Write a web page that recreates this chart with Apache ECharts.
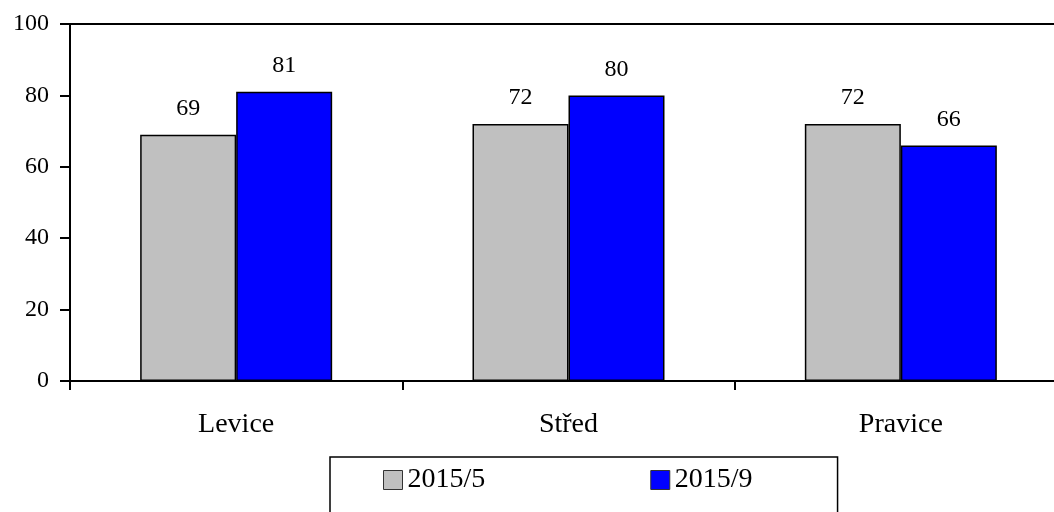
<!DOCTYPE html>
<html>
<head>
<meta charset="utf-8">
<script src="https://cdn.jsdelivr.net/npm/echarts@6/dist/echarts.min.js"></script>
<style>html,body{margin:0;padding:0;background:#fff;overflow:hidden;width:1054px;height:512px;}#c{width:1067px;height:512px;}</style>
</head>
<body>
<div id="c"></div>
<script>
const categories = ['Levice', 'Střed', 'Pravice'];
const seriesNames = ['2015/5', '2015/9'];
const values2015_5 = [69, 72, 72];
const values2015_9 = [81, 80, 66];
const yTicks = [0, 20, 40, 60, 80, 100];

const FONT = '"Liberation Serif", "Times New Roman", serif';
const chart = echarts.init(document.getElementById('c'), null, {renderer: 'canvas'});
const barStyle = (color) => ({color: color, borderColor: '#000', borderWidth: 1.5});
const label = {show: true, position: 'top', distance: 14, color: '#000', fontFamily: FONT, fontSize: 24};

chart.setOption({
  backgroundColor: '#fff',
  animation: false,
  grid: {left: 70, top: 24, right: 0, bottom: 131, containLabel: false},
  legend: {
    data: seriesNames,
    left: 330, top: 457,
    padding: [9, 85, 40, 53],
    itemGap: 165,
    itemWidth: 19, itemHeight: 19,
    icon: 'rect',
    borderColor: '#000', borderWidth: 1.5,
    textStyle: {fontFamily: FONT, fontSize: 28, color: '#000'},
    itemStyle: {borderColor: '#333', borderWidth: 1}
  },
  xAxis: [{
    type: 'category',
    data: categories,
    position: 'bottom',
    axisLine: {lineStyle: {color: '#000', width: 2}},
    axisTick: {show: true, length: 9, lineStyle: {color: '#000', width: 2}},
    axisLabel: {color: '#000', fontFamily: FONT, fontSize: 28, margin: 30}
  }, {
    type: 'category',
    data: categories,
    position: 'top',
    axisLine: {lineStyle: {color: '#000', width: 2}},
    axisTick: {show: false},
    axisLabel: {show: false}
  }],
  yAxis: {
    type: 'value',
    min: yTicks[0], max: yTicks[yTicks.length - 1], interval: 20,
    axisLine: {show: true, lineStyle: {color: '#000', width: 2}},
    axisTick: {show: true, length: 10, lineStyle: {color: '#000', width: 2}},
    splitLine: {show: false},
    axisLabel: {color: '#000', fontFamily: FONT, fontSize: 24, margin: 21}
  },
  series: [{
    name: seriesNames[0], type: 'bar', data: values2015_5,
    barWidth: 96, barGap: '0%',
    itemStyle: barStyle('#c0c0c0'), label: label
  }, {
    name: seriesNames[1], type: 'bar', data: values2015_9,
    barWidth: 96, barGap: '0%',
    itemStyle: barStyle('#0000ff'), label: label
  }]
});
</script>
</body>
</html>
